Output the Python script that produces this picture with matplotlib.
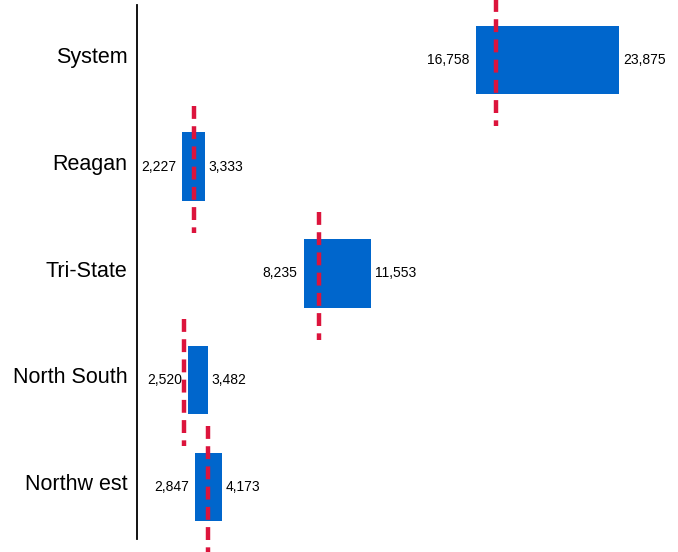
import matplotlib.pyplot as plt
from matplotlib.transforms import ScaledTranslation

plt.rcParams['font.family'] = ['Liberation Sans', 'DejaVu Sans']

# Ranges (low / high) and target per location
locations = ['System', 'Reagan', 'Tri-State', 'North South', 'Northw est']
low_vals = [16758, 2227, 8235, 2520, 2847]
high_vals = [23875, 3333, 11553, 3482, 4173]
targets = [17745, 2820, 9000, 2310, 3510]

bar_color = '#0066CC'
target_color = '#DC143C'

fig = plt.figure(figsize=(6.78, 5.52), dpi=100)
ax = fig.add_axes([137.4 / 678, 13 / 552, 1 - 137.4 / 678, 534 / 552])

ypos = list(range(len(locations)))
widths = [h - l for l, h in zip(low_vals, high_vals)]
ax.barh(ypos, widths, left=low_vals, height=0.64, color=bar_color, zorder=2)

# dashed target markers running past the bar edges
for y, t in zip(ypos, targets):
    ax.plot([t, t], [y - 0.57, y + 0.62], color=target_color, lw=3.2,
            dashes=(2.9, 1.65), solid_capstyle='butt', dash_capstyle='butt',
            zorder=3, clip_on=False)

# value labels on each side of the bars
for y, l, h in zip(ypos, low_vals, high_vals):
    ax.annotate(f"{l:,}", xy=(l, y), xytext=(-4.4, 0), textcoords='offset points',
                ha='right', va='center', fontsize=10)
    ax.annotate(f"{h:,}", xy=(h, y), xytext=(2.8, 0), textcoords='offset points',
                ha='left', va='center', fontsize=10)

ax.set_xlim(0, 26774)
ax.set_ylim(4.487, -0.512)
ax.set_yticks(ypos)
ax.set_yticklabels(locations, fontsize=15.5)
ax.tick_params(axis='y', length=0, pad=7)
ax.set_xticks([])

# category names sit slightly above the bar centres
shift = ScaledTranslation(0, 3.4 / 72, fig.dpi_scale_trans)
for lbl in ax.get_yticklabels():
    lbl.set_transform(lbl.get_transform() + shift)

for side in ['top', 'right', 'bottom']:
    ax.spines[side].set_visible(False)
ax.spines['left'].set_linewidth(1.3)
ax.spines['left'].set_color('black')

fig.savefig('out.png', dpi=100)
